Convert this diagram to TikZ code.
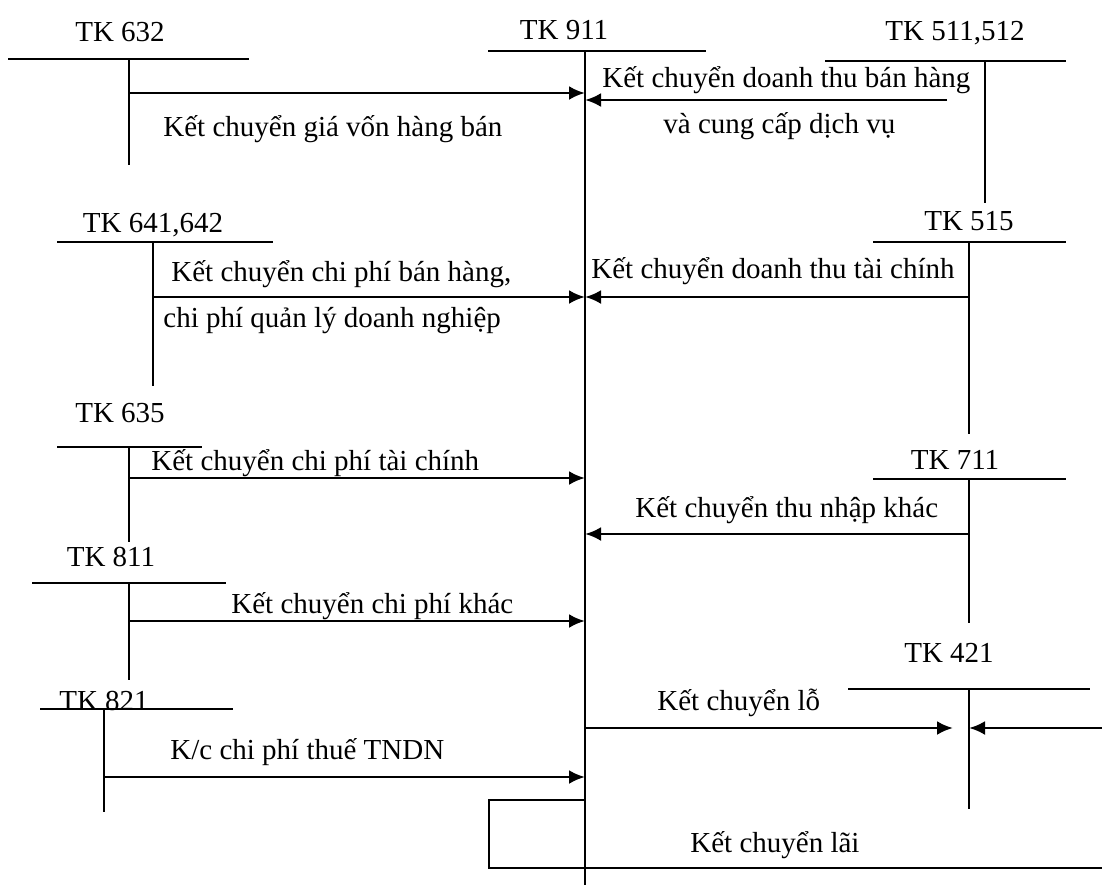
\documentclass[tikz,border=0pt]{standalone}
\usepackage{fontspec}
\setmainfont{Liberation Serif}
\usetikzlibrary{arrows.meta}
\begin{document}
\begin{tikzpicture}[x=0.5pt, y=-0.5pt]
    \tikzstyle{account} = [line width=0.9pt]
    \tikzstyle{transfer} = [line width=1.4pt, -{Latex[length=8pt, width=7pt]}]
    \tikzstyle{title} = [anchor=base, inner sep=0pt, font=\fontsize{14.5}{17}\selectfont]
    \tikzstyle{note} = [anchor=base west, inner sep=0pt, font=\fontsize{14.5}{17}\selectfont]
    \useasboundingbox (0, 0) rectangle (1102, 885);
    % T-accounts: number / junction x / top y / left end / right end / bottom y
    \foreach \n/\x/\y/\l/\r/\b in {632/129/59/8/249/165, 911/585/51/488/706/885,
            511/985/61/825/1066/203, 641/153/242/57/273/386, 515/969/242/873/1066/434,
            635/129/447/57/202/542, 711/969/479/873/1066/623, 811/129/583/32/226/680,
            421/969/689/848/1090/809, 821/104/709/40/233/812} {
        \coordinate (j\n) at (\x, \y);
        \draw[account] (\l, \y) -- (\r, \y);
        \draw[account] (j\n) -- (\x, \b);
    }
    \node[title] (tk632) at (120, 41) {TK 632};
    \node[title] (tk911) at (564, 39) {TK 911};
    \node[title] (tk511) at (955, 40) {TK 511,512};
    \node[title] (tk641) at (153, 232) {TK 641,642};
    \node[title] (tk515) at (969, 230) {TK 515};
    \node[title] (tk635) at (120, 422) {TK 635};
    \node[title] (tk711) at (955, 469) {TK 711};
    \node[title] (tk811) at (111, 566) {TK 811};
    \node[title] (tk421) at (949, 662) {TK 421};
    \node[title] (tk821) at (104, 710) {TK 821};

    % debit side of 911
    \coordinate (s632) at (129, 93);
    \coordinate (s641) at (153, 297);
    \coordinate (s635) at (129, 478);
    \coordinate (s811) at (129, 621);
    \coordinate (s821) at (104, 777);
    \foreach \n in {632, 641, 635, 811, 821} {
        \draw[transfer] (s\n) -- (s\n -| j911);
    }
    % credit side of 911
    \coordinate (s511) at (947, 100);
    \coordinate (s515) at (969, 297);
    \coordinate (s711) at (969, 534);
    \foreach \n in {511, 515, 711} {
        \draw[transfer] (s\n) -- (s\n -| j911);
    }
    % loss and profit
    \coordinate (s421) at (953, 728);
    \coordinate (e421) at (1102, 728);
    \draw[transfer] (s421 -| j911) -- (s421);
    \draw[transfer] (e421) -- (e421 -| j421);
    \coordinate (p911) at (585, 800);
    \coordinate (p421) at (1102, 868);
    \draw[account] (p911) -- (489, 800) -- (489, 868) -- (p421);

    \node[note] (l632) at (163, 136) {Kết chuyển giá vốn hàng bán};
    \node[note] (l511a) at (602, 87) {Kết chuyển doanh thu bán hàng};
    \node[note] (l511b) at (663, 133) {và cung cấp dịch vụ};
    \node[note] (l641a) at (171, 281) {Kết chuyển chi phí bán hàng,};
    \node[note] (l641b) at (163, 327) {chi phí quản lý doanh nghiệp};
    \node[note] (l515) at (591, 278) {Kết chuyển doanh thu tài chính};
    \node[note] (l635) at (151, 470) {Kết chuyển chi phí tài chính};
    \node[note] (l711) at (635, 517) {Kết chuyển thu nhập khác};
    \node[note] (l811) at (231, 613) {Kết chuyển chi phí khác};
    \node[note] (l421) at (657, 710) {Kết chuyển lỗ};
    \node[note] (l821) at (170, 759) {K/c chi phí thuế TNDN};
    \node[note] (lp) at (690, 852) {Kết chuyển lãi};
\end{tikzpicture}
\end{document}
